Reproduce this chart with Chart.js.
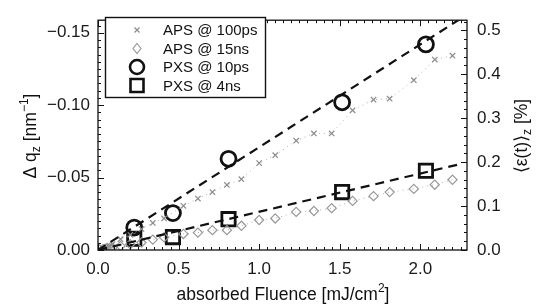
<!DOCTYPE html>
<html>
<head>
<meta charset="utf-8">
<script src="https://cdn.jsdelivr.net/npm/chart.js@4.4.0/dist/chart.umd.min.js"></script>
<style>
  html, body { margin: 0; padding: 0; background: #fff; }
  #wrap { width: 536px; height: 306px; position: relative; }
</style>
</head>
<body>
<div id="wrap"><canvas id="strainChart" width="536" height="306"></canvas></div>
<script>
// APS data (same fluences for both delays)
const apsFluence = [0.01, 0.03, 0.05, 0.07, 0.09, 0.14, 0.20, 0.27, 0.34, 0.41, 0.53, 0.62, 0.71, 0.80, 0.89, 1.00, 1.10, 1.23, 1.34, 1.45, 1.58, 1.71, 1.81, 1.96, 2.09, 2.20];
const aps100ps = [-0.0005, -0.0012, -0.002, -0.003, -0.004, -0.0075, -0.0105, -0.0145, -0.0187, -0.0218, -0.0305, -0.0355, -0.040, -0.0449, -0.0489, -0.060, -0.0655, -0.0755, -0.0805, -0.0805, -0.0965, -0.1038, -0.1045, -0.1173, -0.1315, -0.1342];
const aps15ns = [-0.0003, -0.0006, -0.001, -0.0013, -0.0016, -0.0028, -0.004, -0.0052, -0.0072, -0.0087, -0.0111, -0.012, -0.0137, -0.0137, -0.0167, -0.0207, -0.0218, -0.0263, -0.0269, -0.0289, -0.0339, -0.0372, -0.040, -0.0422, -0.0451, -0.0485];

// PXS data
const pxsFluence = [0.225, 0.465, 0.81, 1.515, 2.035];
const pxs10ps = [-0.0155, -0.0255, -0.063, -0.102, -0.142];
const pxs4ns = [-0.0078, -0.0089, -0.0213, -0.040, -0.0547];

// linear fits through origin
const fitFluence = [0, 2.25];
const fit10ps = [0, -0.1597];
const fit4ns = [0, -0.0594];

const xTicks = [0, 0.5, 1.0, 1.5, 2.0];
const leftTicks = [0, -0.05, -0.10, -0.15];
const rightTicks = [0, 0.1, 0.2, 0.3, 0.4, 0.5];
const legendLabels = ['APS @ 100ps', 'APS @ 15ns', 'PXS @ 10ps', 'PXS @ 4ns'];

const FONT = "'Liberation Sans', Arial, sans-serif";
const LEFT_MAX = 0.1587;
const RIGHT_MAX = 0.523;

function pts(xs, ys) {
    return xs.map((x, i) => ({ x: x, y: ys[i] }));
}
function minus(s) {
    return s.replace('-', '\u2212');
}

// draws a label made of pieces (sub/superscripts), centred on cx, cy
function drawRich(ctx, parts, cx, cy, rotate) {
    ctx.save();
    ctx.translate(cx, cy);
    if (rotate) ctx.rotate(-Math.PI / 2);
    let total = 0;
    parts.forEach(p => {
        ctx.font = p.size + 'px ' + FONT;
        p.w = ctx.measureText(p.text).width;
        total += p.w;
    });
    let x = -total / 2;
    ctx.fillStyle = '#111';
    ctx.textAlign = 'left';
    ctx.textBaseline = 'alphabetic';
    parts.forEach(p => {
        ctx.font = p.size + 'px ' + FONT;
        ctx.fillText(p.text, x, p.dy || 0);
        x += p.w;
    });
    ctx.restore();
}

function marker(ctx, style, x, y) {
    ctx.save();
    ctx.beginPath();
    if (style === 'cross') {
        ctx.strokeStyle = '#8c8c8c'; ctx.lineWidth = 1.2;
        ctx.moveTo(x - 2.5, y - 2.5); ctx.lineTo(x + 2.5, y + 2.5);
        ctx.moveTo(x + 2.5, y - 2.5); ctx.lineTo(x - 2.5, y + 2.5);
    } else if (style === 'diamond') {
        ctx.strokeStyle = '#999'; ctx.lineWidth = 1.2;
        ctx.moveTo(x, y - 5); ctx.lineTo(x + 4, y); ctx.lineTo(x, y + 5); ctx.lineTo(x - 4, y); ctx.closePath();
    } else if (style === 'circle') {
        ctx.strokeStyle = '#111'; ctx.lineWidth = 2.6;
        ctx.arc(x, y, 7, 0, Math.PI * 2);
    } else {
        ctx.strokeStyle = '#111'; ctx.lineWidth = 2.6;
        ctx.rect(x - 6.5, y - 6.5, 13, 13);
    }
    ctx.stroke();
    ctx.restore();
}

const framePlugin = {
    id: 'frame',
    afterDraw(chart) {
        const ctx = chart.ctx;
        const a = chart.chartArea;
        const sx = chart.scales.x, sy = chart.scales.y, sy2 = chart.scales.y2;
        ctx.save();
        ctx.strokeStyle = '#111';
        ctx.lineWidth = 1.3;
        ctx.strokeRect(a.left, a.top, a.right - a.left, a.bottom - a.top);
        ctx.lineWidth = 1;
        ctx.beginPath();
        // x minor / major ticks, bottom and top
        for (let i = 0; i <= 46; i++) {
            const v = i * 0.05;
            const px = Math.round(sx.getPixelForValue(v)) + 0.5;
            if (px > a.right - 1) break;
            const len = (i % 10 === 0) ? 6 : 3;
            ctx.moveTo(px, a.bottom); ctx.lineTo(px, a.bottom - len);
            ctx.moveTo(px, a.top); ctx.lineTo(px, a.top + len);
        }
        // left axis ticks
        for (let i = 0; i <= 32; i++) {
            const py = Math.round(sy.getPixelForValue(-i * 0.005)) + 0.5;
            if (py < a.top + 1) break;
            const len = (i % 10 === 0) ? 6 : 3;
            ctx.moveTo(a.left, py); ctx.lineTo(a.left + len, py);
        }
        // right axis ticks
        for (let i = 0; i <= 26; i++) {
            const py = Math.round(sy2.getPixelForValue(i * 0.02)) + 0.5;
            if (py < a.top + 1) break;
            const len = (i % 5 === 0) ? 6 : 3;
            ctx.moveTo(a.right, py); ctx.lineTo(a.right - len, py);
        }
        ctx.stroke();

        // legend box
        const lx = 105.5, ly = 17.5, lw = 160, lh = 80;
        ctx.fillStyle = '#fff';
        ctx.fillRect(lx, ly, lw, lh);
        ctx.lineWidth = 1.4;
        ctx.strokeRect(lx, ly, lw, lh);
        const styles = ['cross', 'diamond', 'circle', 'square'];
        ctx.font = '15px ' + FONT;
        ctx.textBaseline = 'middle';
        legendLabels.forEach((t, i) => {
            const yy = 30 + i * 18.5;
            marker(ctx, styles[i], 137, yy);
            ctx.fillStyle = '#111';
            ctx.fillText(t, 163, yy + 1);
        });

        // axis titles
        drawRich(ctx, [
            { text: '\u0394 q', size: 17.5 },
            { text: 'z', size: 12, dy: 4 },
            { text: ' [nm', size: 17.5 },
            { text: '\u22121', size: 12, dy: -8 },
            { text: ']', size: 17.5 }
        ], 36, 136, true);
        drawRich(ctx, [
            { text: '\u27E8\u03B5(t)\u27E9', size: 17.5 },
            { text: 'z', size: 12, dy: 4 },
            { text: ' [%]', size: 17.5 }
        ], 527, 136, true);
        drawRich(ctx, [
            { text: 'absorbed Fluence [mJ/cm', size: 17.5 },
            { text: '2', size: 12, dy: -8 },
            { text: ']', size: 17.5 }
        ], 283, 300, false);
        ctx.restore();
    }
};

const tickFont = { family: FONT, size: 17 };

new Chart(document.getElementById('strainChart'), {
    type: 'scatter',
    data: {
        datasets: [
            {
                label: 'PXS @ 10ps fit', data: pts(fitFluence, fit10ps), showLine: true,
                borderColor: '#111', borderWidth: 2.2, borderDash: [9, 6], pointRadius: 0, yAxisID: 'y'
            },
            {
                label: 'PXS @ 4ns fit', data: pts(fitFluence, fit4ns), showLine: true,
                borderColor: '#111', borderWidth: 2.2, borderDash: [9, 6], pointRadius: 0, yAxisID: 'y'
            },
            {
                label: legendLabels[0], data: pts(apsFluence, aps100ps), showLine: true,
                borderColor: '#b0b0b0', borderWidth: 1, borderDash: [1, 4],
                pointStyle: 'crossRot', pointRadius: 3.8, pointBorderColor: '#8c8c8c', pointBorderWidth: 1.2, yAxisID: 'y'
            },
            {
                label: legendLabels[1], data: pts(apsFluence, aps15ns), showLine: true,
                borderColor: '#b0b0b0', borderWidth: 1, borderDash: [1, 4],
                pointStyle: 'rectRot', pointRadius: 4.6, pointBorderColor: '#999', pointBackgroundColor: 'rgba(255,255,255,0)',
                pointBorderWidth: 1.2, yAxisID: 'y'
            },
            {
                label: legendLabels[2], data: pts(pxsFluence, pxs10ps), showLine: false,
                pointStyle: 'circle', pointRadius: 7.5, pointBorderColor: '#111', pointBackgroundColor: 'rgba(255,255,255,0)',
                pointBorderWidth: 2.8, yAxisID: 'y'
            },
            {
                label: legendLabels[3], data: pts(pxsFluence, pxs4ns), showLine: false,
                pointStyle: 'rect', pointRadius: 9.4, pointBorderColor: '#111', pointBackgroundColor: 'rgba(255,255,255,0)',
                pointBorderWidth: 2.8, yAxisID: 'y'
            }
        ]
    },
    options: {
        responsive: false,
        animation: false,
        layout: { padding: { top: 12, left: 0, right: 0, bottom: 0 } },
        plugins: { legend: { display: false }, tooltip: { enabled: false } },
        scales: {
            x: {
                type: 'linear', min: 0, max: 2.29,
                grid: { display: false, drawTicks: false }, border: { display: false },
                afterBuildTicks: s => { s.ticks = xTicks.map(v => ({ value: v })); },
                afterFit: s => { s.height = 56; },
                ticks: { font: tickFont, color: '#1a1a1a', padding: 9, maxRotation: 0,
                    callback: v => v.toFixed(1) }
            },
            y: {
                type: 'linear', position: 'left', reverse: true, min: -LEFT_MAX, max: 0,
                grid: { display: false, drawTicks: false }, border: { display: false },
                afterBuildTicks: s => { s.ticks = leftTicks.map(v => ({ value: v })); },
                afterFit: s => { s.width = 98; },
                ticks: { font: tickFont, color: '#1a1a1a', padding: 8,
                    callback: v => minus(v.toFixed(2)) }
            },
            y2: {
                type: 'linear', position: 'right', min: 0, max: RIGHT_MAX,
                grid: { display: false, drawTicks: false }, border: { display: false },
                afterBuildTicks: s => { s.ticks = rightTicks.map(v => ({ value: v })); },
                afterFit: s => { s.width = 69; },
                ticks: { font: tickFont, color: '#1a1a1a', padding: 10,
                    callback: v => v.toFixed(1) }
            }
        }
    },
    plugins: [framePlugin]
});
</script>
</body>
</html>
